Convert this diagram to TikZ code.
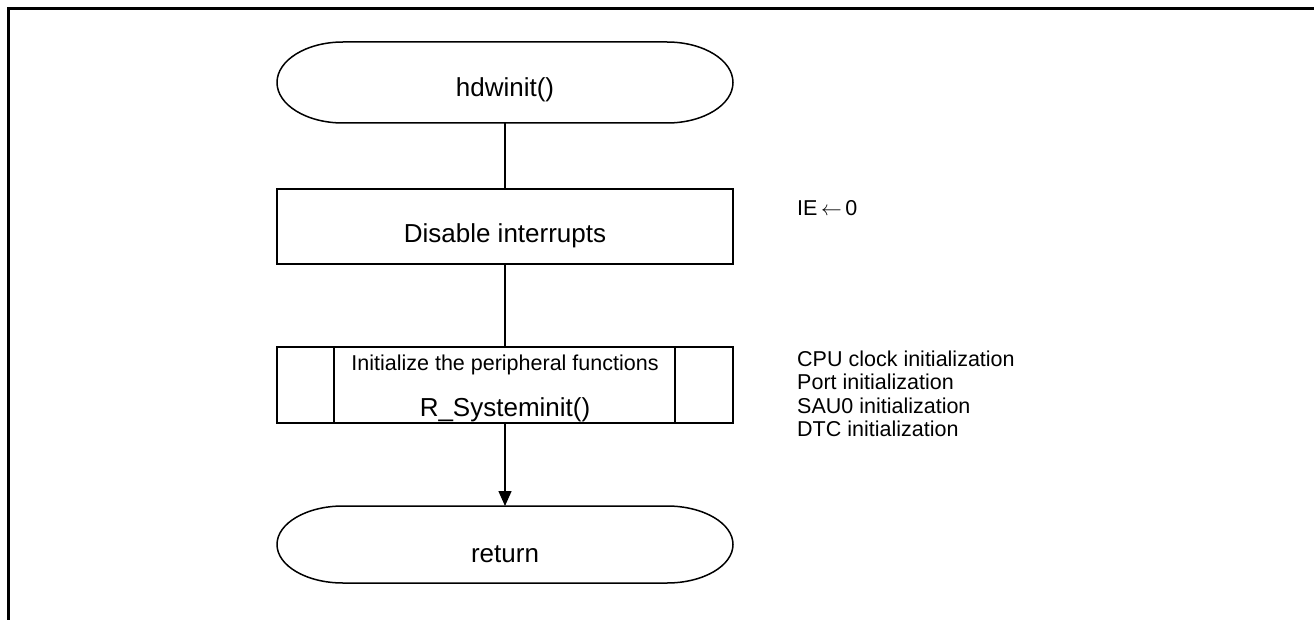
\documentclass[tikz,border=0pt]{standalone}
\usepackage{fontspec}
\setmainfont{Liberation Sans}
\usetikzlibrary{arrows.meta}
\begin{document}
\begin{tikzpicture}[x=1pt,y=-1pt,
  shp/.style={draw=none, minimum width=456pt, inner sep=0pt, outer sep=0pt},
  ln/.style={line width=1.5pt},
  boxd/.style={shp, draw, line width=1.5pt},
  big/.style={font=\fontsize{26}{30}\selectfont, inner sep=0pt, anchor=base},
  small/.style={font=\fontsize{21.5}{23.5}\selectfont, inner sep=0pt, anchor=base},
  side/.style={font=\fontsize{21.5}{23.5}\selectfont, inner sep=0pt, anchor=base west, align=left},
  tip/.style={-{Triangle[length=15pt,width=13pt]}}
]
\useasboundingbox (0,0) rectangle (1314,620);
\draw[line width=3pt] (8,620) -- (8,9) -- (1314,9);

% start terminal
\node[shp, minimum height=81pt] (start) at (505,82.5) {};
\draw[ln] ([xshift=66pt]start.north west) -- ([xshift=-66pt]start.north east)
  arc[start angle=90, end angle=-90, x radius=66pt, y radius=40.5pt]
  -- ([xshift=66pt]start.south west)
  arc[start angle=270, end angle=90, x radius=66pt, y radius=40.5pt] -- cycle;
\node[big] (startt) at (505,97) {hdwinit()};

% process
\node[boxd, minimum height=75pt] (dis) at (505,226.5) {};
\node[big] (dist) at (505,243) {Disable interrupts};

% subroutine
\node[boxd, minimum height=76pt] (sub) at (505,385) {};
\draw[ln] ([xshift=57pt]sub.north west) -- ([xshift=57pt]sub.south west);
\draw[ln] ([xshift=-58pt]sub.north east) -- ([xshift=-58pt]sub.south east);
\node[small] (subt1) at (505,370) {Initialize the peripheral functions};
\node[big] (subt2) at (505,416) {R\_Systeminit()};

% return terminal
\node[shp, minimum height=77pt] (ret) at (505,544.5) {};
\draw[ln] ([xshift=66pt]ret.north west) -- ([xshift=-66pt]ret.north east)
  arc[start angle=90, end angle=-90, x radius=66pt, y radius=38.5pt]
  -- ([xshift=66pt]ret.south west)
  arc[start angle=270, end angle=90, x radius=66pt, y radius=38.5pt] -- cycle;
\node[big] (rett) at (505,562) {return};

% connectors
\draw[ln] (start.south) -- (dis.north);
\draw[ln] (dis.south) -- (sub.north);
\draw[ln, tip] (sub.south) -- (ret.north);

% side notes
\node[side] (ie) at (797,216) {IE\,$\leftarrow$\,0};
\node[side] (n1) at (797,366) {CPU clock initialization};
\node[side] (n2) at (797,389.5) {Port initialization};
\node[side] (n3) at (797,413) {SAU0 initialization};
\node[side] (n4) at (797,436.5) {DTC initialization};
\end{tikzpicture}
\end{document}
